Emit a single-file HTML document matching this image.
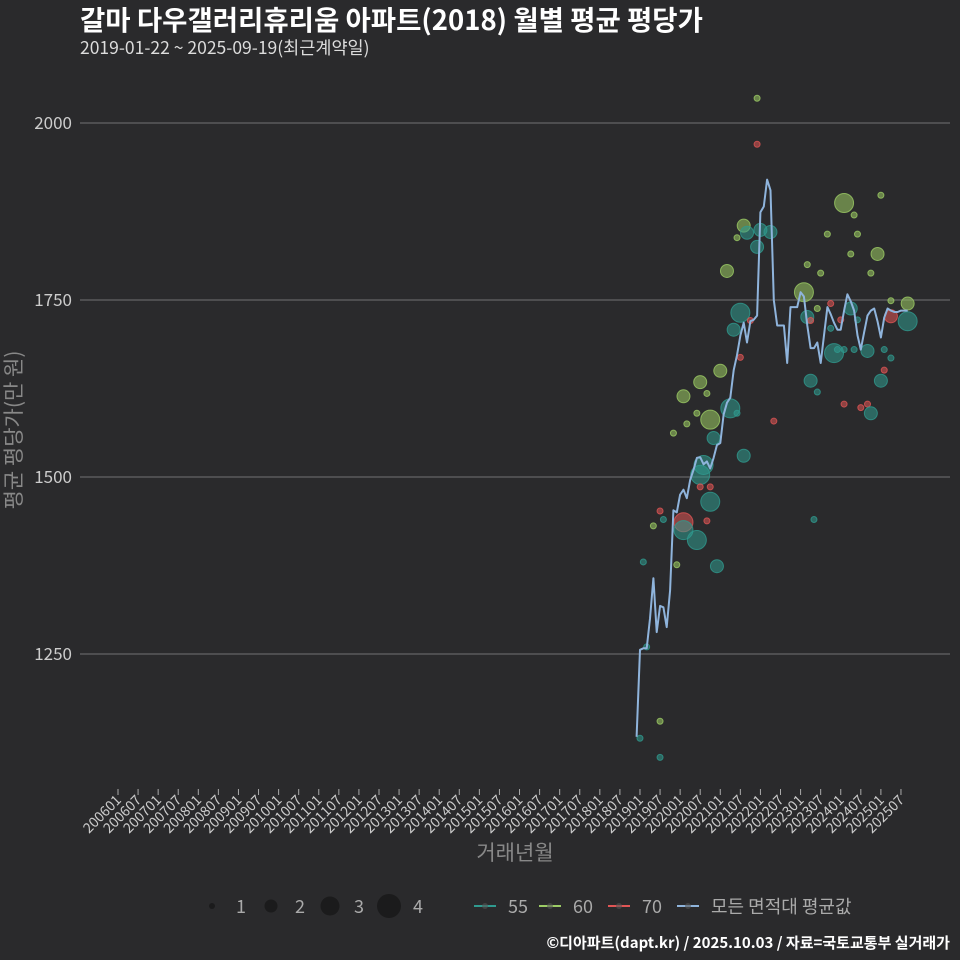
<!DOCTYPE html>
<html><head><meta charset="utf-8"><style>
html,body{margin:0;padding:0;background:#2a2a2c;}
svg{display:block;font-family:"Noto Sans CJK KR","Liberation Sans",sans-serif;}
</style></head><body>
<svg id="chart" width="960" height="960" viewBox="0 0 960 960" xmlns="http://www.w3.org/2000/svg">
<rect width="960" height="960" fill="#2a2a2c"/>
<text x="80" y="30" fill="#fff" font-size="27.5" font-weight="bold">갈마 다우갤러리휴리움 아파트(2018) 월별 평균 평당가</text>
<text x="80" y="54" fill="#ddd" font-size="17.5">2019-01-22 ~ 2025-09-19(최근계약일)</text>
<g id="grid"></g>
<g id="xaxis"></g>
<g id="bubbles"></g>
<g id="line"></g>
<text transform="translate(21,430) rotate(-90)" text-anchor="middle" fill="#888" font-size="21">평균 평당가(만 원)</text>
<text x="515" y="860" text-anchor="middle" fill="#888" font-size="21">거래년월</text>
<g id="legend"></g>
<text x="950" y="948" text-anchor="end" fill="#fff" font-size="15" font-weight="bold">©디아파트(dapt.kr) / 2025.10.03 / 자료=국토교통부 실거래가</text>
</svg>
<script>
const yTicks=[1250,1500,1750,2000];
const lineStartMonth=155; // 2018-12 as month index from 2006-01
const lineValues=[1133,1256,1258,1258,1300,1357,1281,1318,1316,1288,1340,1453,1450,1475,1482,1470,1496,1510,1527,1528,1518,1522,1512,1527,1545,1548,1588,1605,1612,1651,1672,1700,1718,1690,1720,1722,1728,1874,1882,1920,1905,1750,1714,1714,1714,1661,1740,1740,1740,1761,1755,1714,1682,1682,1690,1661,1700,1740,1730,1718,1708,1708,1735,1758,1748,1735,1700,1680,1705,1728,1735,1738,1720,1697,1725,1738,1735,1733,1733,1735,1735,1735];
const bubbleMonth=[36,36,62,73,65,32,33,37,40,36,30,57,66,64,72,70,27,51,55,50,81,76,58,31,34,29,51,52,54,64,76,81,61,58,66,59,60,62,65,74,76,69,31,52,54,73,74,62,67,69,70,41,28,30,25,19,14,22,21,18,15,11,23,32,20,19,19,22,22,14,14,18,7,21,8,5,2,12,24,53,3,7,1,7];
const bubbleValue=[2035,1970,1887,1898,1870,1855,1845,1849,1846,1825,1838,1843,1843,1815,1815,1788,1791,1800,1788,1761,1745,1749,1745,1732,1721,1708,1726,1721,1738,1738,1727,1720,1722,1710,1722,1675,1680,1680,1680,1680,1668,1678,1669,1636,1620,1636,1651,1603,1598,1603,1590,1579,1597,1590,1650,1634,1614,1581,1618,1590,1575,1562,1555,1530,1517,1503,1486,1486,1465,1436,1425,1411,1452,1438,1440,1431,1380,1376,1374,1440,1260,1155,1131,1104];
const bubbleArea=["60","70","60","60","60","60","55","55","55","55","60","60","60","60","60","60","60","60","60","60","60","60","70","55","70","55","55","70","60","55","70","55","70","55","55","55","55","55","55","55","55","55","70","55","55","55","70","70","70","70","55","70","55","55","60","60","60","60","60","60","60","60","55","55","55","55","70","70","55","70","55","55","70","70","55","60","55","60","55","55","55","60","55","55"];
const bubbleCount=[1,1,3,1,1,2,2,2,2,2,1,1,1,1,2,1,2,1,1,3,2,1,1,3,1,2,2,1,1,2,2,3,1,1,1,3,1,1,1,1,1,2,1,2,1,2,1,1,1,1,2,1,3,1,2,2,2,3,1,1,1,1,2,2,3,3,1,1,3,3,3,3,1,1,1,1,1,1,2,1,1,1,1,1];
const xTickLabels=[];for(let y=2006;y<=2025;y++){xTickLabels.push(y+"01");xTickLabels.push(y+"07");}

const NS="http://www.w3.org/2000/svg";
function mk(tag,attrs,parent){const e=document.createElementNS(NS,tag);for(const k in attrs)e.setAttribute(k,attrs[k]);parent.appendChild(e);return e;}
const xScale=m=>118+3.346*m;
const yScale=v=>123+(2000-v)*0.708;
const rScale=c=>[0,3,6.5,9.5,12][c];
const colors={"55":"#2f9a8f","60":"#9ccc65","70":"#e05555"};

const grid=document.getElementById('grid');
yTicks.forEach(t=>{
  const l=mk('line',{x1:80,x2:950,y1:yScale(t),y2:yScale(t),stroke:'#5a5a5c','stroke-width':1.5},grid);
  
  
  const tx=mk('text',{x:72,y:yScale(t)+6,'text-anchor':'end',fill:'#ccc','font-size':17},grid);
  
  
  tx.textContent=t;
});
const xa=document.getElementById('xaxis');
xTickLabels.forEach((lab,i)=>{
  const x=xScale(i*6);
  const tk=mk('line',{x1:x,x2:x,y1:789,y2:795,stroke:'#aaa','stroke-width':1},xa);
  
  
  const t=mk('text',{transform:`translate(${x+4},${801}) rotate(-45)`,'text-anchor':'end',fill:'#ccc','font-size':14},xa);
  
  
  t.textContent=lab;
});
const bg=document.getElementById('bubbles');
bubbleMonth.forEach((m,i)=>{
  const c=colors[bubbleArea[i]];
  const b=mk('circle',{cx:xScale(lineStartMonth+m),cy:yScale(bubbleValue[i]),r:rScale(bubbleCount[i]),fill:c,'fill-opacity':0.55,stroke:c,'stroke-opacity':0.8,'stroke-width':1},bg);
  
  
});
const pts=lineValues.map((v,i)=>xScale(lineStartMonth+i).toFixed(1)+','+yScale(v).toFixed(1)).join(' ');
const pl=mk('polyline',{points:pts,fill:'none',stroke:'#8fb4dc','stroke-width':2,'stroke-linejoin':'round'},document.getElementById('line'));



const lg=document.getElementById('legend');
[[212,1,'1'],[271,2,'2'],[330,3,'3'],[389,4,'4']].forEach(([x,c,lab])=>{
  const ci=mk('circle',{cx:x,cy:906,r:rScale(c),fill:'#1b1b1c'},lg);
  
  
  const t=mk('text',{x:x+24,y:913,fill:'#aaa','font-size':18},lg);
  
  
  t.textContent=lab;
});
[[474,'#2f9a8f','55'],[539,'#9ccc65','60'],[608,'#e05555','70'],[677,'#8fb4dc','모든 면적대 평균값']].forEach(([x,c,lab])=>{
  const l=mk('line',{x1:x,x2:x+22,y1:906,y2:906,stroke:c,'stroke-width':2},lg);
  
  
  mk('circle',{cx:x+11,cy:906,r:3,fill:'#555',opacity:0.6},lg);
  const t=mk('text',{x:x+34,y:913,fill:'#aaa','font-size':18},lg);
  
  
  t.textContent=lab;
});
</script>
</body></html>
